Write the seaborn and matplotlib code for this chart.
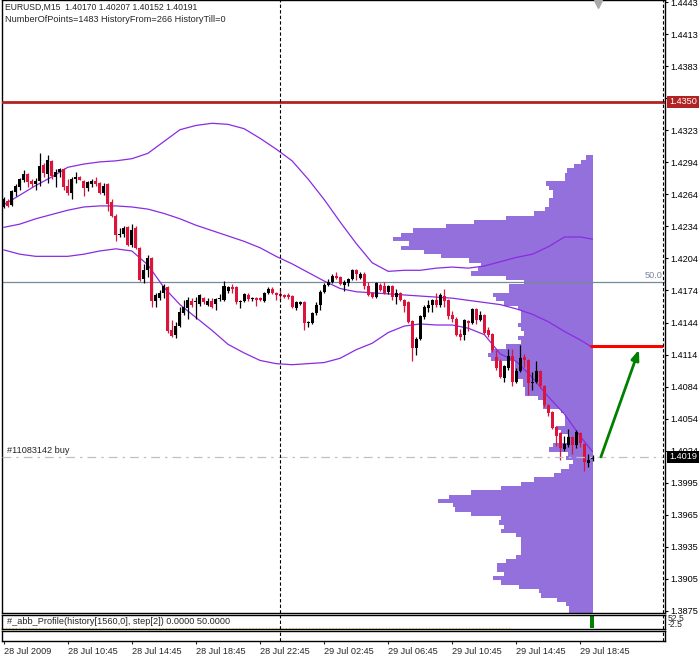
import numpy as np
import pandas as pd
import seaborn as sns
import matplotlib.pyplot as plt

# EURUSD M15 bars, 28 Jul 2009 06:45 .. 29 Jul 19:30
opens = [1.4252, 1.4258, 1.4254, 1.4266, 1.4271, 1.4277, 1.4283, 1.4276, 1.4273, 1.4276,
         1.4291, 1.4283, 1.4295, 1.4280, 1.4285, 1.4287, 1.4272, 1.4265, 1.4278, 1.4280,
         1.4276, 1.4270, 1.4273, 1.4276, 1.4274, 1.4265, 1.4273, 1.4257, 1.4244, 1.4226,
         1.4227, 1.4233, 1.4217, 1.4232, 1.4214, 1.4185, 1.4193, 1.4204, 1.4164, 1.4167,
         1.4172, 1.4177, 1.4137, 1.4133, 1.4141, 1.4153, 1.4158, 1.4164, 1.4163, 1.4162,
         1.4167, 1.4161, 1.4164, 1.4162, 1.4166, 1.4165, 1.4174, 1.4177, 1.4177, 1.4163,
         1.4164, 1.4170, 1.4166, 1.4167, 1.4167, 1.4164, 1.4172, 1.4176, 1.4172, 1.4171,
         1.4170, 1.4170, 1.4169, 1.4158, 1.4162, 1.4163, 1.4144, 1.4144, 1.4153, 1.4161,
         1.4173, 1.4179, 1.4182, 1.4188, 1.4187, 1.4179, 1.4181, 1.4185, 1.4193, 1.4186,
         1.4190, 1.4178, 1.4172, 1.4168, 1.4179, 1.4178, 1.4173, 1.4178, 1.4168, 1.4172,
         1.4165, 1.4163, 1.4146, 1.4121, 1.4129, 1.4149, 1.4158, 1.4161, 1.4165, 1.4161,
         1.4169, 1.4165, 1.4151, 1.4148, 1.4134, 1.4133, 1.4146, 1.4144, 1.4157, 1.4147,
         1.4151, 1.4137, 1.4134, 1.4112, 1.4108, 1.4093, 1.4102, 1.4113, 1.4089, 1.4099,
         1.4112, 1.4109, 1.4088, 1.4089, 1.4099, 1.4085, 1.4067, 1.4061, 1.4047, 1.4041,
         1.4026, 1.4030, 1.4038, 1.4030, 1.4041, 1.4031, 1.4013, 1.40170]
highs = [1.4261, 1.4259, 1.4268, 1.4273, 1.4279, 1.4286, 1.4284, 1.4278, 1.4279, 1.4302,
         1.4293, 1.4300, 1.4296, 1.4287, 1.4288, 1.4288, 1.4278, 1.4280, 1.4285, 1.4281,
         1.4277, 1.4276, 1.4278, 1.4280, 1.4275, 1.4274, 1.4274, 1.4259, 1.4245, 1.4232,
         1.4234, 1.4234, 1.4236, 1.4234, 1.4215, 1.4199, 1.4207, 1.4205, 1.4172, 1.4175,
         1.4180, 1.4178, 1.4147, 1.4145, 1.4159, 1.4165, 1.4168, 1.4167, 1.4168, 1.4171,
         1.4168, 1.4167, 1.4167, 1.4167, 1.4171, 1.4183, 1.4178, 1.4180, 1.4178, 1.4165,
         1.4172, 1.4172, 1.4168, 1.4168, 1.4168, 1.4173, 1.4177, 1.4177, 1.4173, 1.4176,
         1.4171, 1.4172, 1.4170, 1.4164, 1.4164, 1.4164, 1.4146, 1.4154, 1.4163, 1.4175,
         1.4181, 1.4185, 1.4190, 1.4191, 1.4188, 1.4184, 1.4186, 1.4194, 1.4194, 1.4191,
         1.4191, 1.4182, 1.4173, 1.4182, 1.4181, 1.4182, 1.4179, 1.4179, 1.4176, 1.4173,
         1.4166, 1.4164, 1.4147, 1.4131, 1.4151, 1.4161, 1.4165, 1.4166, 1.4172, 1.4172,
         1.4176, 1.4166, 1.4155, 1.4149, 1.4138, 1.4148, 1.4147, 1.4158, 1.4158, 1.4155,
         1.4152, 1.4140, 1.4135, 1.4119, 1.4110, 1.4105, 1.4120, 1.4120, 1.4102, 1.4123,
         1.4115, 1.4110, 1.4098, 1.4108, 1.4100, 1.4086, 1.4068, 1.4062, 1.4048, 1.4042,
         1.4039, 1.4045, 1.4039, 1.4044, 1.4042, 1.4032, 1.4022, 1.40207]
lows = [1.4251, 1.4252, 1.4253, 1.4262, 1.4268, 1.4275, 1.4271, 1.4271, 1.4268, 1.4272,
        1.4280, 1.4274, 1.4278, 1.4271, 1.4280, 1.4268, 1.4263, 1.4259, 1.4274, 1.4277,
        1.4262, 1.4267, 1.4271, 1.4272, 1.4264, 1.4263, 1.4248, 1.4243, 1.4220, 1.4224,
        1.4224, 1.4216, 1.4215, 1.4213, 1.4183, 1.4181, 1.4187, 1.4159, 1.4159, 1.4165,
        1.4167, 1.4135, 1.4131, 1.4130, 1.4140, 1.4151, 1.4148, 1.4159, 1.4148, 1.4160,
        1.4162, 1.4160, 1.4158, 1.4156, 1.4164, 1.4164, 1.4172, 1.4172, 1.4162, 1.4158,
        1.4163, 1.4164, 1.4164, 1.4160, 1.4164, 1.4163, 1.4171, 1.4171, 1.4165, 1.4165,
        1.4167, 1.4166, 1.4158, 1.4156, 1.4161, 1.4137, 1.4140, 1.4143, 1.4151, 1.4156,
        1.4172, 1.4178, 1.4181, 1.4185, 1.4179, 1.4174, 1.4178, 1.4184, 1.4184, 1.4185,
        1.4176, 1.4169, 1.4167, 1.4167, 1.4174, 1.4171, 1.4171, 1.4165, 1.4162, 1.4164,
        1.4154, 1.4144, 1.4108, 1.4114, 1.4128, 1.4148, 1.4154, 1.4154, 1.4159, 1.4159,
        1.4159, 1.4148, 1.4145, 1.4132, 1.4128, 1.4128, 1.4136, 1.4143, 1.4143, 1.4146,
        1.4134, 1.4131, 1.4117, 1.4100, 1.4093, 1.4089, 1.4100, 1.4085, 1.4088, 1.4098,
        1.4103, 1.4077, 1.4081, 1.4088, 1.4083, 1.4066, 1.4057, 1.4045, 1.4029, 1.4016,
        1.4025, 1.4028, 1.4022, 1.4027, 1.4028, 1.4006, 1.4010, 1.40152]
closes = [1.4259, 1.4253, 1.4267, 1.4272, 1.4278, 1.4283, 1.4275, 1.4273, 1.4276, 1.4290,
          1.4284, 1.4296, 1.4281, 1.4285, 1.4287, 1.4271, 1.4265, 1.4278, 1.4280, 1.4277,
          1.4270, 1.4275, 1.4276, 1.4273, 1.4265, 1.4272, 1.4255, 1.4244, 1.4226, 1.4227,
          1.4232, 1.4217, 1.4231, 1.4214, 1.4184, 1.4193, 1.4204, 1.4164, 1.4170, 1.4172,
          1.4178, 1.4136, 1.4132, 1.4141, 1.4154, 1.4159, 1.4165, 1.4161, 1.4164, 1.4170,
          1.4163, 1.4164, 1.4159, 1.4166, 1.4167, 1.4178, 1.4177, 1.4176, 1.4163, 1.4164,
          1.4171, 1.4166, 1.4167, 1.4165, 1.4165, 1.4172, 1.4176, 1.4172, 1.4170, 1.4169,
          1.4168, 1.4168, 1.4159, 1.4163, 1.4163, 1.4144, 1.4145, 1.4153, 1.4161, 1.4173,
          1.4179, 1.4182, 1.4188, 1.4186, 1.4180, 1.4182, 1.4185, 1.4193, 1.4190, 1.4190,
          1.4178, 1.4170, 1.4168, 1.4181, 1.4175, 1.4172, 1.4178, 1.4168, 1.4172, 1.4165,
          1.4160, 1.4145, 1.4121, 1.4129, 1.4150, 1.4159, 1.4161, 1.4165, 1.4161, 1.4170,
          1.4164, 1.4150, 1.4148, 1.4133, 1.4131, 1.4147, 1.4144, 1.4157, 1.4147, 1.4151,
          1.4135, 1.4133, 1.4119, 1.4102, 1.4094, 1.4104, 1.4113, 1.4089, 1.4099, 1.4111,
          1.4109, 1.4088, 1.4089, 1.4099, 1.4085, 1.4067, 1.4060, 1.4046, 1.4039, 1.4027,
          1.4031, 1.4038, 1.4030, 1.4042, 1.4032, 1.4014, 1.4016, 1.40191]

# band lines, read every 4th bar
band_bars = list(range(0, 148, 4)) + [147]
upper_band = [1.4254, 1.4263, 1.4272, 1.4280, 1.4289, 1.4292, 1.4294, 1.4295, 1.4297, 1.4302,
              1.4313, 1.4324, 1.4328, 1.4330, 1.4329, 1.4325, 1.4316, 1.4306, 1.4295, 1.4278,
              1.4259, 1.4238, 1.4218, 1.4200, 1.4192, 1.4193, 1.4193, 1.4195, 1.4196, 1.4195,
              1.4197, 1.4201, 1.4205, 1.4208, 1.4215, 1.4224, 1.4224, 1.4222]
middle_band = [1.4233, 1.4236, 1.4241, 1.4245, 1.4249, 1.4252, 1.4253, 1.4253, 1.4252, 1.4250,
               1.4246, 1.4241, 1.4235, 1.4230, 1.4225, 1.4220, 1.4214, 1.4206, 1.4199, 1.4191,
               1.4183, 1.4176, 1.4173, 1.4172, 1.4171, 1.4170, 1.4169, 1.4168, 1.4167, 1.4165,
               1.4163, 1.4161, 1.4157, 1.4152, 1.4145, 1.4136, 1.4128, 1.4121]
lower_band = [1.4212, 1.4208, 1.4206, 1.4206, 1.4206, 1.4208, 1.4211, 1.4213, 1.4211, 1.4198,
              1.4177, 1.4161, 1.4149, 1.4137, 1.4124, 1.4116, 1.4109, 1.4106, 1.4105, 1.4106,
              1.4107, 1.4111, 1.4119, 1.4125, 1.4135, 1.4141, 1.4143, 1.4142, 1.4142, 1.4139,
              1.4133, 1.4115, 1.4108, 1.4093, 1.4075, 1.4059, 1.4038, 1.4024]

# volume profile: rows of 0.0004 from 1.4300 down, length in bars
profile_top = 1.4300
profile_step = 0.0004
profile_width = [1.75, 3.0, 4.75, 6.5, 7.0, 7.0, 11.75, 11.0, 10.0, 10.0,
                 11.0, 11.0, 12.0, 14.75, 21.75, 29.75, 36.75, 45.0, 48.0, 50.0,
                 46.0, 48.0, 42.25, 38.0, 31.0, 28.0, 28.75, 30.5, 21.75, 17.25,
                 21.0, 21.0, 25.0, 24.25, 22.25, 18.75, 18.0, 18.0, 18.0, 18.75,
                 18.0, 17.25, 18.75, 18.0, 21.75, 25.5, 26.25, 25.5, 19.5, 19.5,
                 19.5, 19.5, 17.5, 17.5, 17.0, 17.0, 13.75, 12.5, 12.5, 8.0,
                 7.0, 7.0, 7.0, 9.25, 8.0, 6.25, 6.25, 10.0, 11.0, 6.25,
                 6.75, 5.0, 6.0, 8.0, 9.75, 14.75, 18.0, 23.0, 30.5, 36.0,
                 38.75, 35.0, 34.5, 30.5, 23.0, 23.5, 22.25, 23.0, 19.25, 18.0,
                 18.0, 18.0, 18.0, 19.25, 21.75, 24.0, 24.0, 22.25, 25.0, 23.0,
                 18.5, 13.5, 13.0, 9.0, 6.75, 6.0, 6.0]
profile_right = 147.1

time_ticks = [0, 16, 32, 48, 64, 80, 96, 112, 128, 144]
time_labels = ['28 Jul 2009', '28 Jul 10:45', '28 Jul 14:45', '28 Jul 18:45', '28 Jul 22:45',
               '29 Jul 02:45', '29 Jul 06:45', '29 Jul 10:45', '29 Jul 14:45', '29 Jul 18:45']
price_labels = ['1.3875', '1.3905', '1.3935', '1.3965', '1.3995', '1.4024', '1.4054', '1.4084',
                '1.4114', '1.4144', '1.4174', '1.4204', '1.4234', '1.4264', '1.4294', '1.4323',
                '1.4353', '1.4383', '1.4413', '1.4443']

stop_level = 1.4350
target_level = 1.4122
order_price = 1.40191
level_50 = 1.4182
day_break = 69
shift_bar = 164.7

sns.set_style('white')
plt.rcParams['font.family'] = ['Liberation Sans', 'DejaVu Sans']
plt.rcParams['font.size'] = 6.6

fig = plt.figure(figsize=(6.99, 6.57), dpi=100)
W, H = 699, 657
ax = fig.add_axes([2 / W, (H - 613) / H, 663 / W, 613 / H])
ax1 = fig.add_axes([2 / W, (H - 629) / H, 663 / W, 14 / H])
ax2 = fig.add_axes([2 / W, (H - 641) / H, 663 / W, 10 / H])

xlim = (-0.425, 165.1)

# profile
prof_bottom = profile_top - profile_step * (np.arange(len(profile_width)) + 1)
pw = np.array(profile_width)
ax.barh(prof_bottom, pw, height=profile_step, left=profile_right - pw, align='edge',
        color='#9370DB', lw=0, zorder=1)

# bands
bands = pd.DataFrame({'bar': band_bars, 'upper': upper_band, 'middle': middle_band, 'lower': lower_band})
for col in ['upper', 'middle', 'lower']:
    sns.lineplot(data=bands, x='bar', y=col, ax=ax, color='#8A2BE2', lw=0.9, zorder=3)

# candles
df = pd.DataFrame({'open': opens, 'high': highs, 'low': lows, 'close': closes})
df['bar'] = np.arange(len(df))
df['color'] = np.where(df['close'] >= df['open'], 'black', '#DC143C')
body_low = df[['open', 'close']].min(axis=1)
body_h = (df['close'] - df['open']).abs().clip(lower=0.00009)
ax.vlines(df['bar'], df['low'], df['high'], colors=df['color'], lw=0.9, zorder=4)
ax.bar(df['bar'], body_h, bottom=body_low, width=0.75, color=df['color'], lw=0, zorder=5)

# levels
ax.axhline(stop_level, color='#B22222', lw=2.0, zorder=6)
ax.axhline(level_50, color='#778899', lw=0.9, zorder=2.5)
ax.axhline(order_price, color='#C0C0C0', lw=0.9, ls=(0, (7, 4, 2, 4)), zorder=6)
ax.plot([146.3, shift_bar], [target_level, target_level], color='#FF0000', lw=2.2, zorder=7,
        solid_capstyle='butt')
ax.annotate('', xy=(158.6, 1.4119), xytext=(149.1, order_price),
            arrowprops=dict(arrowstyle='-|>,head_length=0.9,head_width=0.35', color='#008000',
                            lw=2.0, shrinkA=0, shrinkB=0), zorder=8)
ax.plot([148.4], [1.4441], marker='v', color='#A9A9A9', ms=6, zorder=8, clip_on=False)

for a in (ax, ax1, ax2):
    a.axvline(day_break, color='black', lw=0.8, ls=(0, (3, 2)), zorder=9)
    a.axvline(shift_bar, color='black', lw=0.8, ls=(0, (3, 2)), zorder=9)
    a.set_xlim(*xlim)
    for s in a.spines.values():
        s.set_color('black')
        s.set_linewidth(1.0)
        s.set_visible(True)

ax.set_ylim(1.38736, 1.44449)
ax.set_xlabel('')
ax.set_ylabel('')
ax.set_xticks([])
ax.yaxis.tick_right()
ax.set_yticks(np.linspace(1.38755, 1.4443, 20))
ax.set_yticklabels(price_labels)
ax.tick_params(axis='y', right=True, direction='out', length=2.5, width=0.8, pad=1.5,
               labelsize=6.6, colors='black')

# texts
ax.text(0.0045, 0.9886, 'EURUSD,M15  1.40170 1.40207 1.40152 1.40191', transform=ax.transAxes,
        ha='left', va='center', fontsize=6.2)
ax.text(0.0045, 0.969, 'NumberOfPoints=1483 HistoryFrom=266 HistoryTill=0', transform=ax.transAxes,
        ha='left', va='center', fontsize=6.6)
ax.text(0.8, 1.4025, '#11083142 buy', ha='left', va='center', fontsize=6.6, zorder=9)
ax.text(164.5, 1.4188, '50.0', ha='right', va='center', fontsize=6.6, color='#778899', zorder=9)
ax.text(1.006, stop_level, '1.4350', transform=ax.get_yaxis_transform(), ha='left', va='center',
        fontsize=6.6, color='white', zorder=10, clip_on=False,
        bbox=dict(facecolor='#B22222', edgecolor='none', pad=1.2))
ax.text(1.006, order_price, '1.4019', transform=ax.get_yaxis_transform(), ha='left', va='center',
        fontsize=6.6, color='white', zorder=10, clip_on=False,
        bbox=dict(facecolor='black', edgecolor='none', pad=1.2))

# indicator sub window
ax1.set_ylim(0, 1)
ax1.set_xticks([])
ax1.set_yticks([])
ax1.bar([146.9], [0.8], bottom=0.1, width=1.0, color='#008000', lw=0)
ax1.plot([-0.4, 127], [0.08, 0.08], color='#FFD700', lw=0.8, ls=(0, (1, 2)))
ax1.text(0.0075, 0.5, '#_abb_Profile(history[1560,0], step[2]) 0.0000 50.0000',
         transform=ax1.transAxes, ha='left', va='center', fontsize=6.6)
ax1.text(1.004, 0.72, '52.5', transform=ax1.transAxes, ha='left', va='center', fontsize=6.2,
         clip_on=False)
ax1.text(1.004, 0.35, '-2.5', transform=ax1.transAxes, ha='left', va='center', fontsize=6.2,
         clip_on=False)

ax2.set_ylim(0, 1)
ax2.set_yticks([])
ax2.set_xticks(time_ticks)
ax2.set_xticklabels(time_labels, ha='left')
ax2.tick_params(axis='x', bottom=True, direction='out', length=2.5, width=0.8, pad=1.5,
                labelsize=6.6)
for lab in ax2.get_xticklabels():
    lab.set_x(lab.get_position()[0])

fig.savefig('out.png', dpi=100, facecolor='white')
